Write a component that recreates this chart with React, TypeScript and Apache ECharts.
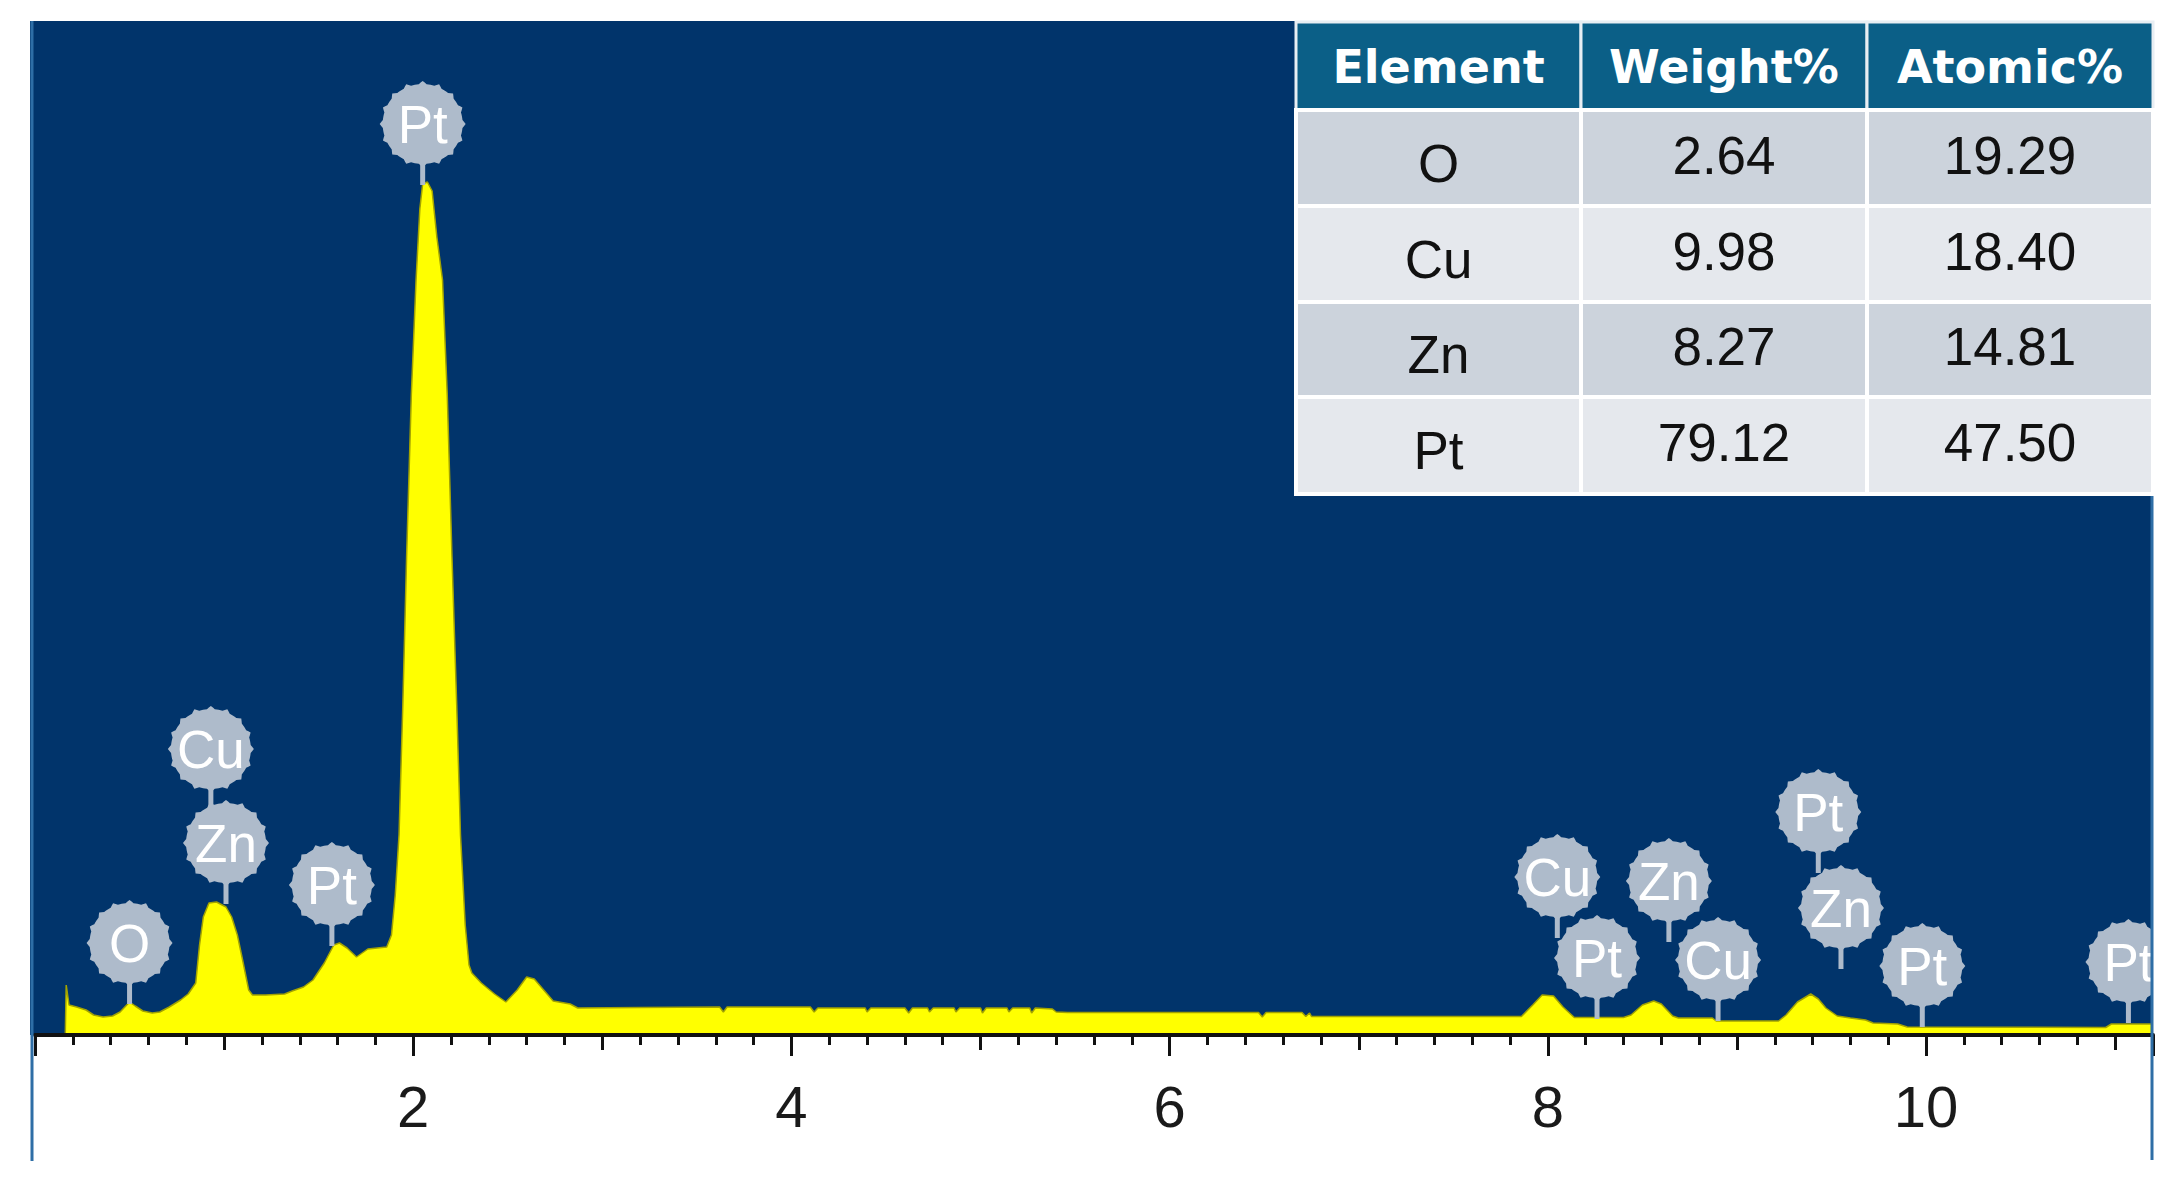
import React, { useEffect, useRef } from "react";
import * as echarts from "echarts";

// ---------- DATA ----------
// EDS spectrum: [energy keV, intensity (a.u.)]
const spectrum: [number, number][] = [
  [0.16, 0], [0.165, 50], [0.18, 30], [0.22, 28], [0.27, 25], [0.31, 20], [0.36, 18],
  [0.41, 19], [0.45, 23], [0.5, 33], [0.53, 29], [0.57, 24], [0.62, 22], [0.66, 23],
  [0.71, 28], [0.77, 35], [0.81, 41], [0.85, 52], [0.87, 90], [0.89, 118], [0.92, 132],
  [0.96, 133], [1.01, 128], [1.04, 118], [1.07, 100], [1.1, 73], [1.13, 45], [1.15, 40],
  [1.22, 40], [1.32, 41], [1.36, 44], [1.42, 48], [1.47, 55], [1.53, 72], [1.58, 90],
  [1.61, 92], [1.65, 87], [1.7, 78], [1.73, 82], [1.76, 86], [1.86, 88], [1.885, 100],
  [1.905, 140], [1.925, 200], [1.945, 330], [1.965, 478], [1.99, 640], [2.015, 755],
  [2.035, 826], [2.05, 851], [2.075, 853], [2.1, 844], [2.125, 798], [2.155, 755],
  [2.18, 640], [2.205, 478], [2.23, 330], [2.25, 200], [2.275, 110], [2.295, 70],
  [2.31, 62], [2.36, 52], [2.43, 41], [2.49, 33], [2.55, 45], [2.6, 58], [2.64, 56],
  [2.69, 45], [2.74, 34], [2.83, 31], [2.87, 27], [3.2, 27.5], [3.62, 28], [3.64, 23],
  [3.66, 28], [4.1, 28], [4.12, 23], [4.14, 27], [4.39, 27], [4.4, 23], [4.42, 27],
  [4.6, 27], [4.62, 22], [4.64, 27], [4.72, 27], [4.73, 23], [4.75, 27], [4.86, 27],
  [4.87, 23], [4.89, 27], [5.0, 27], [5.01, 22], [5.03, 27], [5.14, 27], [5.15, 23],
  [5.17, 27], [5.26, 27], [5.27, 22], [5.29, 27], [5.38, 26], [5.4, 23], [5.46, 22.5],
  [6.47, 22.5], [6.49, 18], [6.51, 22.5], [6.7, 22.5], [6.72, 18.5], [6.74, 22],
  [6.75, 18.5], [7.86, 18.5], [7.92, 30], [7.97, 40], [8.03, 39], [8.08, 28],
  [8.14, 17.5], [8.4, 17.5], [8.44, 20], [8.5, 30], [8.56, 34], [8.6, 31], [8.66, 19],
  [8.69, 17], [8.87, 17], [8.89, 14], [9.22, 14], [9.26, 20], [9.32, 33], [9.39, 41],
  [9.43, 36], [9.47, 27], [9.53, 19], [9.6, 17], [9.68, 15], [9.72, 12], [9.85, 11],
  [9.9, 8], [10.95, 7.5], [10.98, 11], [11.2, 11],
];

// Peak identification markers
const peakElements = ["O", "Cu", "Zn", "Pt", "Pt", "Cu", "Pt", "Zn", "Cu", "Pt", "Zn", "Pt", "Pt"];
const peakKeV = [0.5, 0.93, 1.01, 1.57, 2.05, 8.05, 8.26, 8.64, 8.9, 9.43, 9.55, 9.98, 11.07];
const peakMarkerHeight = [31, 225, 131, 89, 850, 97, 16, 93, 14, 162, 66, 8, 12];

// Axis
const xMin = 0;
const xMax = 11.2;
const xTickLabels = [2, 4, 6, 8, 10];

// Composition table
const tableHeader = ["Element", "Weight%", "Atomic%"];
const tableElements = ["O", "Cu", "Zn", "Pt"];
const weightPct = ["2.64", "9.98", "8.27", "79.12"];
const atomicPct = ["19.29", "18.40", "14.81", "47.50"];

// ---------- LAYOUT / STYLE ----------
const W = 2183;
const H = 1194;
const PLOT_LEFT = 35;
const PLOT_RIGHT = 2153;
const PLOT_TOP = 22;
const AXIS_Y = 1035;
const BLUE = "#01346B";
const BADGE = "#AEBBCB";

const colX = [1296, 1581, 1867, 2153];
const rowY = [22, 110, 206, 302, 397, 494];

// scalloped badge outline (local coords, stem bottom at 0,0)
const BADGE_CY = -61;
const R0 = 40;
const AMP = 3;
const NB = 16;
function badgePath(): string {
  const steps = NB * 8;
  let d = "";
  for (let i = 0; i <= steps; i++) {
    const t = (i / steps) * Math.PI * 2;
    const c = Math.max(0, Math.cos(NB * t));
    const r = R0 + AMP * c * c;
    const x = r * Math.cos(t);
    const y = BADGE_CY + r * Math.sin(t);
    d += (i === 0 ? "M" : "L") + x.toFixed(2) + " " + y.toFixed(2) + " ";
  }
  return d + "Z";
}
const BADGE_PATH = badgePath();
const RMAX = R0 + AMP;

function buildTable(): any[] {
  const els: any[] = [];
  const textAlign = { align: "center", verticalAlign: "middle", textAlign: "center", textVerticalAlign: "middle" };
  // header
  for (let c = 0; c < 3; c++) {
    els.push({
      type: "rect",
      z: 100,
      shape: { x: colX[c], y: rowY[0], width: colX[c + 1] - colX[c], height: rowY[1] - rowY[0] },
      style: { fill: "#0B5F87", stroke: "#E8EEF3", lineWidth: 3 },
    });
    els.push({
      type: "text",
      z: 101,
      x: (colX[c] + colX[c + 1]) / 2,
      y: (rowY[0] + rowY[1]) / 2 + 1,
      style: {
        text: tableHeader[c],
        fill: "#FFFFFF",
        fontSize: 46,
        fontWeight: "bold",
        fontFamily: "DejaVu Sans",
        ...textAlign,
      },
    });
  }
  for (let r = 0; r < tableElements.length; r++) {
    const fill = r % 2 === 0 ? "#CCD3DC" : "#E5E8ED";
    const y0 = rowY[r + 1];
    const y1 = rowY[r + 2];
    const vals = [tableElements[r], weightPct[r], atomicPct[r]];
    for (let c = 0; c < 3; c++) {
      els.push({
        type: "rect",
        z: 100,
        shape: { x: colX[c], y: y0, width: colX[c + 1] - colX[c], height: y1 - y0 },
        style: { fill, stroke: "#FFFFFF", lineWidth: 4 },
      });
      els.push({
        type: "text",
        z: 101,
        x: (colX[c] + colX[c + 1]) / 2,
        y: (y0 + y1) / 2 + (c === 0 ? 5 : -3),
        style: {
          text: vals[c],
          fill: "#111111",
          fontSize: 53,
          fontFamily: "Liberation Sans, Arial, sans-serif",
          ...textAlign,
        },
      });
    }
  }
  return els;
}

export default function App() {
  const ref = useRef<HTMLDivElement>(null);

  useEffect(() => {
    if (!ref.current) return;
    const chart = echarts.init(ref.current, undefined, { renderer: "svg" });

    const tickBase = {
      type: "value",
      min: xMin,
      max: xMax,
      position: "bottom",
      gridIndex: 0,
      splitLine: { show: false },
      axisLabel: { show: false },
      axisLine: { show: false },
    };

    const option: any = {
      animation: false,
      backgroundColor: "#FFFFFF",
      grid: {
        left: PLOT_LEFT,
        right: W - PLOT_RIGHT,
        top: PLOT_TOP,
        bottom: H - AXIS_Y,
        show: false,
      },
      xAxis: [
        {
          ...tickBase,
          interval: 2,
          z: 5,
          axisLine: { show: true, onZero: false, lineStyle: { color: "#111111", width: 4 } },
          axisTick: { show: true, length: 21, lineStyle: { color: "#111111", width: 3 } },
          axisLabel: {
            show: true,
            margin: 42,
            fontSize: 58,
            fontFamily: "Liberation Sans, Arial, sans-serif",
            color: "#1A1A1A",
            formatter: (v: number) =>
              xTickLabels.indexOf(Math.round(v * 10) / 10) >= 0 ? String(Math.round(v)) : "",
          },
        },
        {
          ...tickBase,
          interval: 1,
          z: 5,
          axisTick: { show: true, length: 15, lineStyle: { color: "#111111", width: 3 } },
        },
        {
          ...tickBase,
          interval: 0.2,
          z: 5,
          axisTick: { show: true, length: 10, lineStyle: { color: "#111111", width: 3 } },
        },
      ],
      yAxis: {
        type: "value",
        min: 0,
        max: AXIS_Y - PLOT_TOP,
        show: false,
        splitLine: { show: false },
      },
      graphic: {
        elements: [
          {
            type: "rect",
            z: -10,
            shape: { x: 30, y: 21, width: PLOT_RIGHT - 30, height: AXIS_Y - 21 },
            style: { fill: BLUE },
          },
          {
            type: "line",
            z: 50,
            shape: { x1: 32, y1: 21, x2: 32, y2: 1161 },
            style: { stroke: "#2E6EA6", lineWidth: 3 },
          },
          {
            type: "line",
            z: 50,
            shape: { x1: 2152, y1: 21, x2: 2152, y2: 1160 },
            style: { stroke: "#2E6EA6", lineWidth: 3 },
          },
          ...buildTable(),
        ],
      },
      series: [
        {
          type: "line",
          xAxisIndex: 0,
          yAxisIndex: 0,
          data: spectrum,
          showSymbol: false,
          symbol: "none",
          z: 2,
          clip: true,
          lineStyle: { color: "#A3A300", width: 1.5 },
          areaStyle: { color: "#FFFF00", opacity: 1 },
        },
        {
          type: "custom",
          xAxisIndex: 0,
          yAxisIndex: 0,
          z: 4,
          clip: true,
          data: peakKeV.map((k, i) => [k, peakMarkerHeight[i], i]),
          renderItem: (params: any, api: any) => {
            const p = api.coord([api.value(0), api.value(1)]);
            const label = peakElements[params.dataIndex];
            return {
              type: "group",
              x: p[0],
              y: p[1],
              children: [
                {
                  type: "rect",
                  shape: { x: -2.5, y: -24, width: 5, height: 24 },
                  style: { fill: BADGE },
                },
                {
                  type: "path",
                  shape: {
                    pathData: BADGE_PATH,
                    x: -RMAX,
                    y: BADGE_CY - RMAX,
                    width: RMAX * 2,
                    height: RMAX * 2,
                  },
                  style: { fill: BADGE },
                },
                {
                  type: "text",
                  x: 0,
                  y: BADGE_CY,
                  style: {
                    text: label,
                    fill: "#FFFFFF",
                    fontSize: 53,
                    fontFamily: "Liberation Sans, Arial, sans-serif",
                    align: "center",
                    verticalAlign: "middle",
                    textAlign: "center",
                    textVerticalAlign: "middle",
                  },
                },
              ],
            };
          },
        },
      ],
    };

    chart.setOption(option);
    return () => chart.dispose();
  }, []);

  return (
    <div
      ref={ref}
      style={{ position: "fixed", left: 0, top: 0, width: W, height: H, background: "#fff" }}
    />
  );
}
